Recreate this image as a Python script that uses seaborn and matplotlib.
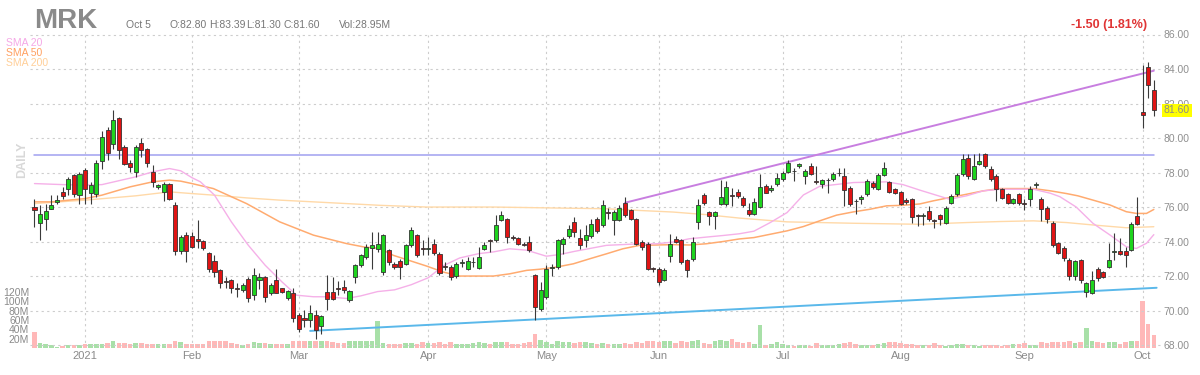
import numpy as np
import pandas as pd
import matplotlib
matplotlib.use("Agg")
import matplotlib.pyplot as plt
import matplotlib.transforms as mtransforms
import seaborn as sns

# ---------------- data ----------------
holidays = ["2020-12-25", "2021-01-01", "2021-01-18", "2021-02-15",
            "2021-04-02", "2021-05-31", "2021-07-05", "2021-09-06"]
dates = pd.bdate_range("2020-12-18", "2021-10-05", freq="C", holidays=holidays)

open_ = [76.00, 75.10, 75.29, 75.90, 76.30, 76.88, 77.03, 77.85, 76.69, 78.17,
         76.84, 76.78, 78.66, 80.45, 79.68, 81.17, 79.49, 78.58, 78.04, 79.74,
         79.35, 78.04, 77.17, 76.90, 77.36, 76.14, 73.44, 74.37, 74.33, 74.14,
         74.02, 73.34, 72.86, 72.34, 71.72, 71.76, 71.28, 71.18, 71.82, 70.89,
         71.76, 71.95, 70.99, 71.76, 71.28, 70.73, 70.99, 69.73, 69.54, 69.44,
         69.73, 69.11, 71.08, 71.08, 71.30, 71.37, 70.60, 71.95, 72.63, 73.10,
         73.60, 73.58, 72.23, 73.49, 72.72, 72.85, 72.72, 73.78, 74.36, 73.60,
         73.55, 73.87, 73.29, 72.57, 72.52, 71.98, 72.77, 72.42, 72.80, 72.46,
         73.58, 74.07, 74.07, 75.23, 75.32, 74.25, 74.20, 73.87, 73.97, 72.04,
         70.10, 70.78, 72.48, 72.52, 73.87, 74.32, 75.13, 74.20, 74.07, 74.32,
         75.32, 74.94, 75.70, 75.23, 75.23, 76.25, 75.81, 75.28, 73.97, 73.87,
         72.44, 72.42, 71.75, 73.16, 74.16, 74.07, 72.91, 72.97, 75.13, 76.71,
         75.71, 75.48, 76.19, 76.16, 76.70, 76.88, 76.55, 75.84, 75.58, 76.03,
         77.23, 76.97, 77.32, 77.61, 78.04, 78.10, 78.39, 77.77, 78.39, 77.52,
         77.32, 77.55, 77.61, 77.97, 77.77, 77.13, 76.37, 76.45, 76.74, 77.38,
         77.07, 77.85, 77.46, 77.03, 76.88, 76.40, 76.45, 75.52, 75.50, 75.78,
         75.22, 75.53, 75.07, 76.26, 76.74, 77.90, 78.87, 77.65, 78.48, 79.06,
         78.23, 77.77, 77.03, 76.74, 76.26, 76.74, 76.22, 76.45, 77.28, 76.49,
         75.97, 75.10, 73.90, 73.65, 72.95, 71.98, 72.93, 71.09, 71.03, 72.39,
         72.25, 72.54, 73.42, 73.45, 73.45, 73.51, 75.48, 81.53, 84.10, 82.80]
high = [76.49, 76.10, 76.20, 76.69, 76.69, 77.17, 77.75, 77.94, 78.04, 78.27,
        77.46, 78.71, 80.40, 80.65, 81.61, 81.23, 79.58, 78.71, 79.58, 80.00,
        79.43, 78.46, 77.36, 77.46, 77.42, 76.30, 74.37, 74.56, 74.56, 75.24,
        74.08, 73.40, 73.20, 72.43, 71.95, 71.82, 71.57, 71.57, 71.95, 72.47,
        72.15, 72.00, 71.57, 72.43, 71.30, 71.18, 71.28, 69.83, 70.02, 70.31,
        70.02, 69.73, 72.05, 71.95, 71.70, 71.76, 71.18, 72.72, 73.30, 73.87,
        74.55, 74.55, 74.45, 73.58, 72.81, 73.00, 73.87, 74.84, 74.45, 74.07,
        74.26, 74.16, 73.39, 72.81, 72.62, 72.81, 73.00, 73.10, 73.10, 73.68,
        73.97, 74.16, 75.52, 75.75, 75.36, 74.36, 74.26, 73.97, 74.32, 72.13,
        71.65, 72.62, 72.70, 74.16, 74.26, 74.94, 75.42, 74.74, 74.94, 75.32,
        75.42, 76.39, 75.97, 75.81, 76.10, 76.58, 75.90, 75.36, 74.07, 73.97,
        72.55, 72.52, 72.46, 74.45, 74.30, 74.16, 73.00, 74.26, 76.48, 76.83,
        75.75, 75.75, 77.55, 77.52, 77.13, 77.07, 76.65, 76.26, 76.55, 77.90,
        77.32, 77.25, 78.00, 78.10, 78.73, 78.29, 78.58, 78.19, 78.58, 78.39,
        77.65, 77.71, 78.04, 78.29, 78.29, 77.23, 76.45, 76.68, 77.61, 77.52,
        78.00, 78.62, 77.52, 77.13, 76.94, 76.50, 76.55, 75.60, 75.65, 76.07,
        75.30, 75.60, 76.07, 76.74, 78.00, 79.06, 79.06, 79.06, 79.12, 79.16,
        78.39, 77.90, 77.13, 76.84, 76.55, 76.84, 76.45, 77.23, 77.45, 76.61,
        76.07, 75.20, 73.97, 73.75, 73.07, 72.95, 73.00, 71.67, 72.30, 72.50,
        72.30, 73.90, 74.47, 74.18, 73.70, 75.15, 76.60, 84.23, 84.43, 83.39]
low = [74.85, 74.08, 74.66, 75.87, 76.20, 76.49, 76.69, 76.59, 76.20, 76.20,
       76.20, 76.59, 78.23, 78.71, 79.39, 78.77, 78.42, 78.04, 77.75, 78.90,
       78.33, 77.17, 77.07, 76.34, 76.40, 73.20, 73.30, 72.82, 73.60, 73.60,
       73.50, 72.24, 71.95, 71.28, 71.28, 71.04, 70.80, 71.08, 70.50, 70.60,
       71.24, 70.50, 70.89, 70.99, 70.99, 70.60, 69.34, 68.76, 69.05, 69.05,
       68.38, 68.67, 70.02, 70.60, 70.90, 71.04, 70.50, 71.57, 72.53, 73.00,
       72.42, 73.40, 72.04, 72.62, 72.42, 71.85, 72.66, 73.68, 73.10, 73.20,
       73.20, 73.24, 72.07, 72.33, 71.75, 71.90, 72.52, 72.33, 72.52, 72.42,
       73.49, 73.39, 73.97, 75.17, 73.93, 74.07, 73.82, 73.75, 73.39, 69.43,
       70.00, 70.69, 72.00, 72.42, 73.30, 74.20, 74.26, 73.55, 73.68, 74.20,
       74.51, 74.84, 75.30, 74.36, 75.17, 75.42, 75.23, 73.82, 73.49, 72.33,
       72.24, 71.50, 71.69, 72.81, 73.90, 72.72, 71.94, 72.85, 74.70, 76.10,
       74.94, 74.74, 76.14, 76.07, 76.07, 76.55, 76.03, 75.49, 75.53, 75.97,
       76.80, 76.90, 77.23, 77.52, 78.00, 77.52, 78.29, 77.32, 77.88, 77.32,
       77.13, 76.84, 77.52, 77.80, 76.07, 76.07, 75.60, 76.20, 76.65, 77.04,
       76.99, 77.77, 76.80, 76.74, 76.10, 76.20, 75.10, 74.90, 74.97, 75.20,
       74.81, 74.97, 75.01, 76.16, 76.65, 77.80, 77.65, 77.57, 78.43, 78.29,
       77.52, 76.36, 76.45, 76.16, 76.16, 76.10, 75.80, 76.07, 77.10, 75.20,
       75.10, 73.70, 73.26, 72.88, 71.80, 71.80, 71.57, 70.80, 70.95, 71.70,
       71.90, 72.44, 72.93, 73.21, 72.54, 73.45, 74.95, 80.56, 82.30, 81.30]
close = [75.82, 75.57, 75.76, 76.10, 76.40, 76.65, 77.65, 76.78, 77.94, 77.07,
         77.30, 78.58, 80.07, 79.16, 81.03, 79.30, 78.52, 78.33, 79.49, 79.30,
         78.58, 77.46, 77.25, 77.36, 76.49, 73.44, 74.27, 73.46, 73.69, 74.02,
         73.63, 72.43, 72.24, 71.57, 71.65, 71.32, 71.24, 71.47, 70.73, 72.05,
         71.95, 70.79, 71.47, 71.04, 71.08, 71.12, 69.54, 68.96, 69.44, 69.83,
         68.86, 69.69, 70.66, 70.66, 71.25, 71.18, 71.12, 72.63, 73.20, 73.68,
         73.80, 73.87, 74.36, 72.81, 72.52, 72.52, 73.78, 74.65, 73.24, 73.55,
         73.60, 73.35, 72.17, 72.53, 71.94, 72.72, 72.82, 72.85, 72.82, 73.10,
         73.80, 74.02, 74.94, 75.52, 74.26, 74.21, 73.87, 73.78, 73.49, 70.20,
         71.20, 72.42, 72.52, 74.07, 74.16, 74.74, 74.55, 73.82, 74.36, 75.03,
         74.59, 76.14, 75.66, 75.71, 75.94, 75.52, 75.28, 73.87, 73.68, 72.39,
         72.40, 71.65, 72.33, 73.87, 74.00, 72.81, 72.33, 74.00, 76.10, 76.25,
         75.48, 75.71, 76.58, 77.17, 76.62, 76.65, 76.10, 75.58, 76.30, 77.17,
         76.84, 77.13, 77.71, 78.00, 78.58, 78.06, 78.52, 78.10, 77.94, 77.48,
         77.57, 77.57, 77.90, 78.00, 76.99, 76.16, 76.33, 76.61, 77.52, 77.17,
         77.85, 78.29, 76.88, 76.80, 76.16, 76.30, 75.45, 75.48, 75.52, 75.30,
         75.18, 75.30, 75.97, 76.65, 77.85, 78.81, 77.77, 78.39, 78.64, 78.39,
         77.65, 77.03, 76.55, 76.26, 76.45, 76.23, 76.18, 77.07, 77.32, 75.91,
         75.30, 73.78, 73.35, 73.07, 72.00, 72.88, 71.77, 71.57, 71.77, 71.86,
         71.96, 72.93, 73.48, 73.27, 73.21, 75.01, 75.01, 81.33, 83.10, 81.60]
volume_m = [34, 11, 9, 6, 2.5, 4, 6, 6, 6, 9,
            9, 9, 9, 10.5, 14, 11, 11, 9, 10.5, 11,
            9, 9, 9, 9, 9, 15, 12.6, 9, 9, 9,
            9, 16, 15, 15, 14, 11, 9, 7, 9, 12.6,
            11, 11, 9, 9, 9, 9, 16, 15, 15, 15,
            14, 14, 14, 12.6, 11, 11, 14, 16, 16, 16,
            16, 57, 10.5, 9.5, 8.4, 8.4, 10, 10.5, 8.4, 12,
            10.5, 10, 12, 8.4, 12, 8.4, 8.4, 8.4, 10, 13,
            10.5, 8.4, 12, 12, 13, 8.4, 8.4, 10, 12, 29.5,
            17, 12, 8.4, 15.4, 12, 12, 10, 12, 13, 10.5,
            8.4, 10, 8.4, 8.4, 8.4, 10, 8.4, 13, 10, 15.4,
            15.4, 13, 14, 15.4, 10.5, 14, 13, 15.4, 17, 10,
            8.4, 15.4, 17, 15.4, 19, 12, 10.5, 12, 8.4, 49,
            7, 8.4, 12, 8.4, 7, 5, 7, 7, 5, 11,
            7, 7, 7, 8.4, 10, 12, 8.4, 7, 6, 6,
            8.4, 11, 12, 13, 10, 8.4, 8.4, 7, 6, 7,
            11, 6, 5, 6, 8.4, 8.4, 6, 6, 5, 6,
            6, 6, 5, 6, 8.4, 8.4, 10, 6, 6, 13,
            10, 13, 12, 12, 15.4, 10, 13, 43.5, 15.4, 12,
            10.5, 12, 13, 8.4, 12, 15.4, 15.4, 100, 52.6, 28.95]

# moving averages (candle index, price)
sma20_x = [0, 5, 9, 12, 18, 21, 24, 26, 28, 29.5, 32, 35, 38, 41, 44, 46.6, 49.6,
           52, 55.5, 58, 61, 64, 67, 70, 72.7, 75.6, 79, 81.6, 84.5, 87.5, 91,
           93.4, 96, 101.7, 107.6, 110.6, 113.5, 116.4, 119.5, 122.4, 125.3,
           127.9, 130.8, 133.8, 136.7, 139.6, 145.6, 151.5, 154.4, 157.4, 159.8,
           162.7, 165.7, 168.7, 171.7, 177.6, 180.6, 182.3, 185.2, 188.2, 191.2,
           194.1, 195.9, 197.7, 199]
sma20_y = [77.36, 77.30, 77.27, 77.30, 77.75, 78.04, 78.23, 78.10, 77.70, 77.46,
           76.69, 75.14, 73.79, 72.63, 71.66, 70.89, 70.80, 70.80, 70.70, 70.85,
           71.10, 71.20, 71.50, 71.90, 72.60, 73.05, 73.30, 73.40, 73.58, 73.50,
           73.15, 73.25, 73.43, 73.78, 73.87, 73.87, 73.97, 74.16, 74.26, 74.35,
           74.45, 74.60, 75.10, 75.68, 76.70, 77.20, 77.42, 77.46, 77.30, 76.98,
           76.74, 76.45, 76.65, 76.94, 77.03, 77.03, 76.80, 76.60, 76.00, 75.05,
           74.38, 73.70, 73.60, 73.90, 74.40]
sma50_x = [0, 3, 9, 12, 17, 21, 24, 26, 28, 31.8, 37.7, 43.6, 49.6, 55.5, 58.5,
           61.4, 63.8, 69.7, 72.7, 75.6, 81.6, 84.5, 87.5, 90, 92.8, 95.8, 98.7,
           101.7, 104.6, 107.6, 113.5, 116.4, 119.4, 122.4, 125.3, 127.9, 133.8,
           136.7, 139.6, 142.6, 145.6, 148.5, 151.5, 154.4, 157.4, 159.8, 162.7,
           165.7, 168.7, 171.7, 177.6, 180.6, 183.5, 185.5, 188.2, 191.2, 194.1,
           195.9, 197.7, 199]
sma50_y = [76.30, 76.30, 76.49, 76.69, 77.17, 77.46, 77.56, 77.50, 77.36, 77.07,
           76.20, 75.14, 74.37, 73.88, 73.69, 73.60, 73.20, 72.58, 72.23, 72.00,
           72.00, 72.13, 72.33, 72.40, 72.52, 72.71, 73.00, 73.29, 73.58, 73.78,
           73.82, 73.80, 73.87, 74.00, 74.15, 74.23, 74.62, 74.87, 75.20, 75.53,
           75.72, 75.87, 76.07, 76.10, 76.18, 76.36, 76.55, 76.74, 76.94, 77.07,
           77.07, 76.94, 76.78, 76.65, 76.40, 76.12, 75.73, 75.63, 75.63, 75.86]
sma200_x = [0, 9, 18, 24, 28, 31.8, 37.7, 43.6, 49.6, 55.5, 61.4, 69.7, 81.6,
            93.4, 101.7, 107.6, 113.5, 119.4, 125.3, 133.8, 145.6, 157.4, 165.7,
            171.7, 177.6, 183.5, 188.2, 194.1, 199]
sma200_y = [76.20, 76.40, 76.65, 76.88, 76.78, 76.69, 76.53, 76.40, 76.30, 76.20,
            76.10, 76.00, 76.00, 75.94, 75.90, 75.80, 75.71, 75.56, 75.36, 75.14,
            75.06, 75.00, 75.10, 75.16, 75.20, 75.10, 74.96, 74.80, 74.86]

# drawn lines (candle index, price)
resist_x, resist_y = [0, 199], [79.0, 79.0]
upper_x, upper_y = [105, 199], [76.25, 83.9]
lower_x, lower_y = [49, 199.5], [68.82, 71.32]

month_names = ["2021", "Feb", "Mar", "Apr", "May", "Jun", "Jul", "Aug", "Sep", "Oct"]
price_ticks = [68, 70, 72, 74, 76, 78, 80, 82, 84, 86]
vol_ticks = [20, 40, 60, 80, 100, 120]
header_items = ["Oct 5", "O:82.80", "H:83.39", "L:81.30", "C:81.60", "Vol:28.95M"]
header_px = [126, 169, 209, 246, 283, 339]

# ---------------- figure ----------------
sns.set_theme(style="white")
plt.rcParams['font.family'] = ['Liberation Sans', 'DejaVu Sans']

n = len(close)
df = pd.DataFrame({"date": dates[:n], "open": open_, "high": high, "low": low,
                   "close": close, "vol": volume_m})
df["i"] = np.arange(n)
df["up"] = df["close"] >= df["open"]

W, H = 1200, 375
fig = plt.figure(figsize=(12, 3.75), dpi=100)
ax_bottom_px, ax_top_px, ax_left_px, ax_right_px = 348, 34.5, 30, 1160
ax = fig.add_axes([ax_left_px / W, 1 - ax_bottom_px / H,
                   (ax_right_px - ax_left_px) / W, (ax_bottom_px - ax_top_px) / H])
axv = ax.twinx()
ax.set_zorder(axv.get_zorder() + 1)
ax.patch.set_visible(False)

first_of_month = df.groupby(df["date"].dt.to_period("M"))["i"].min().values
month_pos = [p for p in first_of_month if p > 0]

grid_kw = dict(color="#cdcdcd", linestyle=(0, (2, 3)), linewidth=0.8)
axv.set_xlim(-0.8, 200.1)
ax.set_xlim(-0.8, 200.1)
ax.set_ylim(67.83, 86.0)
axv.set_ylim(0, 673.7)

for p in month_pos:
    axv.axvline(p, **grid_kw, zorder=0)
for t in price_ticks:
    ax.axhline(t, **grid_kw, zorder=0.5, clip_on=False)

# volume
vcol = np.where(df["up"], "#a8e0a8", "#ffb8b8")
axv.bar(df["i"], df["vol"], width=0.8, color=vcol, linewidth=0, zorder=1)

# moving averages and drawn lines
sns.lineplot(x=sma200_x, y=sma200_y, ax=ax, color="#ffd9a8", lw=1.0, zorder=2)
sns.lineplot(x=sma50_x, y=sma50_y, ax=ax, color="#ffab70", lw=1.1, zorder=2)
sns.lineplot(x=sma20_x, y=sma20_y, ax=ax, color="#f5b0e8", lw=1.0, zorder=2)
sns.lineplot(x=resist_x, y=resist_y, ax=ax, color="#a0a0f0", lw=1.1, zorder=2)
sns.lineplot(x=upper_x, y=upper_y, ax=ax, color="#c87ee0", lw=1.4, zorder=2)
sns.lineplot(x=lower_x, y=lower_y, ax=ax, color="#5ab8ea", lw=1.4, zorder=2)

# candles
ax.vlines(df["i"], df["low"], df["high"], color="#3a3a3a", lw=0.8, zorder=3)
body_lo = np.minimum(df["open"], df["close"])
body_h = np.maximum(np.abs(df["close"] - df["open"]), 0.02)
ccol = np.where(df["up"], "#1ed41e", "#e01414")
ax.bar(df["i"], body_h, bottom=body_lo, width=0.72, color=ccol,
       edgecolor="#333333", linewidth=0.6, zorder=4)

for a in (ax, axv):
    for s in a.spines.values():
        s.set_visible(False)
    a.grid(False)

ax.set_xticks(month_pos)
ax.set_xticklabels(month_names[:len(month_pos)])
ax.tick_params(axis="x", length=0, pad=2.5, labelsize=8, labelcolor="#8a8a8a")
ax.yaxis.tick_right()
ax.set_yticks(price_ticks)
ax.set_yticklabels([f"{t:.2f}" for t in price_ticks])
ax.tick_params(axis="y", length=0, pad=2.5, labelsize=7.5, labelcolor="#8f8f8f")
ax.set_xlabel("")
ax.set_ylabel("")

axv.yaxis.tick_left()
axv.set_yticks(vol_ticks)
axv.set_yticklabels([f"{v}M" for v in vol_ticks])
axv.tick_params(axis="y", length=0, pad=0.5, labelsize=7.5, labelcolor="#8a8a8a")
axv.tick_params(axis="x", length=0, labelbottom=False)
axv.set_ylabel("")

# last price tag
trans = mtransforms.blended_transform_factory(ax.transAxes, ax.transData)
ax.text(1.0 + 4 / 1130, close[-1], f"{close[-1]:.2f}", transform=trans,
        fontsize=7.5, color="#8a8a8a", va="center", ha="left", zorder=10,
        bbox=dict(boxstyle="square,pad=0.15", facecolor="#ffff00", edgecolor="none"))

# header
fig.text(34 / W, 1 - 28 / H, "MRK", fontsize=20, fontweight="bold",
         color="#8a8a8a", ha="left", va="baseline")
for px, txt in zip(header_px, header_items):
    fig.text(px / W, 1 - 28 / H, txt, fontsize=7.5, color="#777777", va="baseline")
fig.text(1147 / W, 1 - 28 / H, "-1.50 (1.81%)", fontsize=9, fontweight="bold",
         color="#e03535", ha="right", va="baseline")

# legend text
fig.text(6 / W, 1 - 43 / H, "SMA 20", fontsize=7.5, color="#f5a8e6", va="center")
fig.text(6 / W, 1 - 53 / H, "SMA 50", fontsize=7.5, color="#ffa060", va="center")
fig.text(6 / W, 1 - 63 / H, "SMA 200", fontsize=7.5, color="#ffcf98", va="center")
fig.text(22 / W, 1 - 160 / H, "DAILY", fontsize=9, fontweight="bold",
         color="#d8d8d8", rotation=90, ha="center", va="center")

fig.savefig("out.png", dpi=100)
